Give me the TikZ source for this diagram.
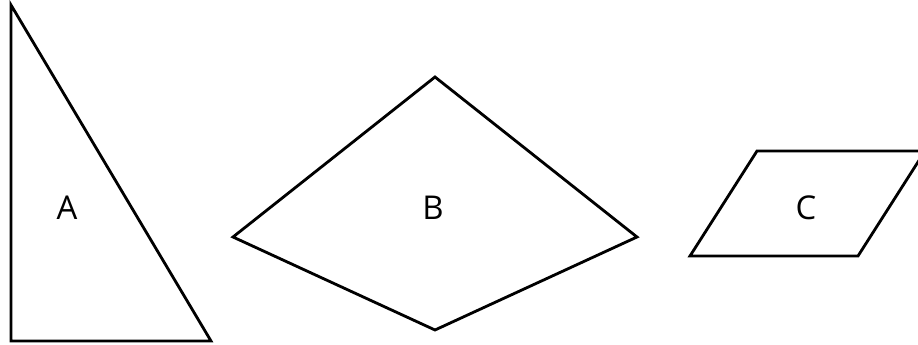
\documentclass[tikz,border=0pt]{standalone}
\usepackage{fontspec}
\setmainfont{Open Sans}
\begin{document}
\begin{tikzpicture}[x=0.03cm,y=-0.03cm,line width=2.4pt,line join=miter]
\tikzset{lbl/.style={font=\fontsize{28}{32}\selectfont,inner sep=0pt}}
\useasboundingbox (0,0) rectangle (918,345);
% 三角形 A
\coordinate (a1) at (11,5);
\coordinate (a2) at (11,341);
\coordinate (a3) at (211,341);
\draw (a1)--(a2)--(a3)--cycle;
\node[lbl] (A) at (67,208) {A};

% 筝形 B
\coordinate (b1) at (435,77);
\coordinate (b2) at (233,237);
\coordinate (b3) at (435,330);
\coordinate (b4) at (637,237);
\draw (b1)--(b2)--(b3)--(b4)--cycle;
\node[lbl] (B) at (433,208) {B};

% 平行四边形 C
\coordinate (c1) at (757,151);
\coordinate (c2) at (925,151);
\coordinate (c3) at (858,256);
\coordinate (c4) at (690,256);
\draw (c1)--(c2)--(c3)--(c4)--cycle;
\node[lbl] (C) at (806,208) {C};
\end{tikzpicture}
\end{document}
